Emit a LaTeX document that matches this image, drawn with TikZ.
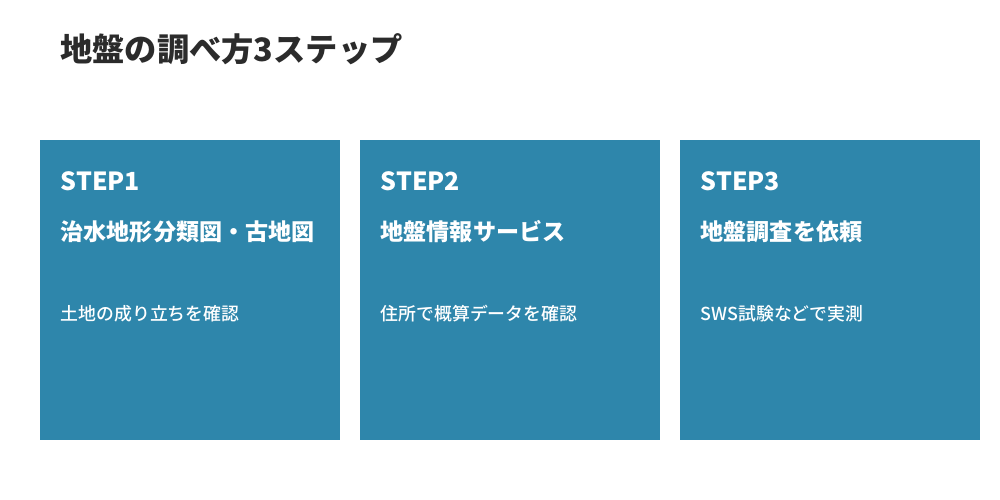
\documentclass[tikz,border=0pt]{standalone}
\usepackage{fontspec}
\setmainfont{Noto Sans CJK JP}
\newfontfamily\descfont{Noto Sans CJK JP Medium}
\usetikzlibrary{positioning}
\definecolor{stepblue}{HTML}{2E86AB}
\definecolor{headgray}{HTML}{2B2B2B}

\begin{document}
\begin{tikzpicture}[
            x = 0.75pt, y = -0.75pt, % 1 unit = 1 px
            stepbox/.style = {fill=stepblue, draw=none, minimum width=225pt,
                minimum height=225pt, inner sep=0pt, anchor=north west},
            steplabel/.style = {text=white, font=\bfseries\fontsize{18.7pt}{20pt}\selectfont,
                inner sep=0pt, anchor=base west},
            steptitle/.style = {text=white, font=\bfseries\fontsize{17.3pt}{19pt}\selectfont,
                inner sep=0pt, anchor=base west},
            stepdesc/.style = {text=white, font=\descfont\fontsize{13.4pt}{15pt}\selectfont,
                inner sep=0pt, anchor=base west}
        ]
        \useasboundingbox (0,0) rectangle (1000,500);

        \node[text=headgray, font=\bfseries\fontsize{24.2pt}{26pt}\selectfont,
            inner sep=0pt, anchor=base west] (heading) at (60,61) {地盤の調べ方3ステップ};

        \foreach \i/\t/\d in {1/治水地形分類図・古地図/土地の成り立ちを確認,
                2/地盤情報サービス/住所で概算データを確認,
                3/地盤調査を依頼/SWS試験などで実測} {
            \node[stepbox] (box\i) at ({40+(\i-1)*320},140) {};
            \node[steplabel] (label\i) at ({60.5+(\i-1)*320},190) {STEP\i};
            \node[steptitle] (title\i) at ({60.5+(\i-1)*320},240) {\t};
            \node[stepdesc] (desc\i) at ({60.5+(\i-1)*320},320) {\d};
        }
\end{tikzpicture}
\end{document}
